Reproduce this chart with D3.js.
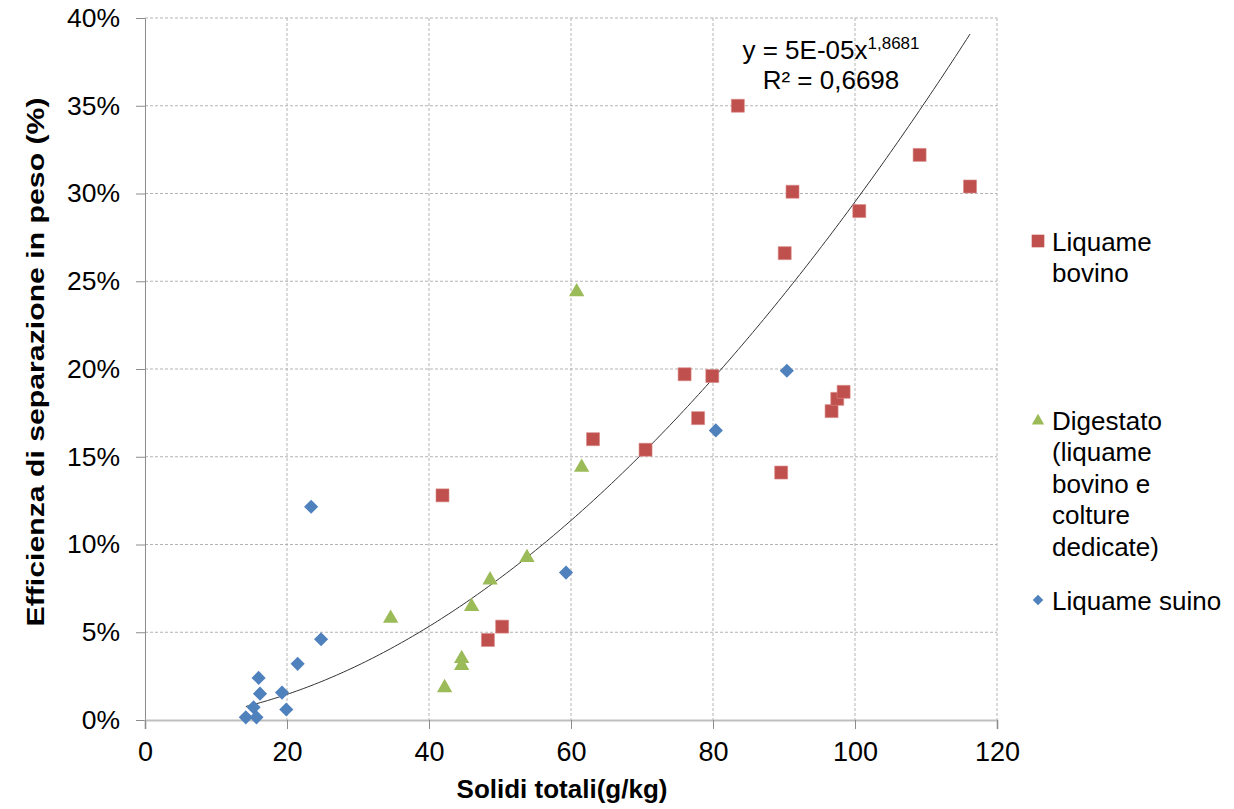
<!DOCTYPE html>
<html><head><meta charset="utf-8">
<script src="https://cdn.jsdelivr.net/npm/d3@7"></script>
<style>html,body{margin:0;padding:0;background:#fff;} text{font-family:"Liberation Sans",Arial,sans-serif;fill:#000;}</style>
</head><body>
<svg id="chart" width="1234" height="809"></svg>
<script>
// ---- data ----
const bovinoX = [41.9, 48.3, 50.3, 63.1, 70.5, 76.0, 77.9, 79.9, 83.5, 89.6, 90.1, 91.2, 96.7, 97.5, 98.4, 100.6, 109.1, 116.2];
const bovinoY = [12.8, 4.56, 5.32, 16.0, 15.4, 19.7, 17.2, 19.6, 35.0, 14.1, 26.6, 30.1, 17.6, 18.3, 18.7, 29.0, 32.2, 30.4];
const digestatoX = [34.6, 42.2, 44.6, 44.6, 46.0, 48.6, 53.8, 60.8, 61.5];
const digestatoY = [5.79, 1.84, 3.1, 3.5, 6.46, 7.98, 9.25, 24.4, 14.4];
const suinoX = [14.2, 15.3, 15.7, 16.0, 16.2, 19.3, 19.9, 21.5, 23.4, 24.8, 59.3, 80.4, 90.4];
const suinoY = [0.15, 0.72, 0.15, 2.4, 1.5, 1.56, 0.6, 3.2, 12.15, 4.6, 8.4, 16.5, 19.9];
const xTicks = [0, 20, 40, 60, 80, 100, 120];
const yTicks = [0, 0.05, 0.10, 0.15, 0.20, 0.25, 0.30, 0.35, 0.40];
const trendCoef = 5.42e-5, trendExp = 1.8681;
const eqLine1 = "y = 5E-05x", eqSup = "1,8681", eqLine2 = "R² = 0,6698";
const xTitle = "Solidi totali(g/kg)";
const yTitle = "Efficienza di separazione in peso (%)";
const legendItems = [
  {name:"bovino", lines:["Liquame","bovino"]},
  {name:"digestato", lines:["Digestato","(liquame","bovino e","colture","dedicate)"]},
  {name:"suino", lines:["Liquame suino"]}
];
// ---- chart ----
const svg = d3.select("#chart");
svg.append("rect").attr("width",1234).attr("height",809).attr("fill","#fff");
const L=145, R=997, T=18, B=720;
const x = d3.scaleLinear().domain([0,120]).range([L,R]);
const y = d3.scaleLinear().domain([0,0.40]).range([B,T]);
const colors = {bovino:"#C0504D", digestato:"#9BBB59", suino:"#4F81BD"};

// gridlines
const grid = svg.append("g");
grid.selectAll("line.h").data(yTicks.filter(d=>d>0)).enter().append("line")
  .attr("x1",L).attr("x2",R).attr("y1",d=>y(d)).attr("y2",d=>y(d))
  .attr("stroke","#b3b3b3").attr("stroke-width",1).attr("stroke-dasharray","3,2");
grid.selectAll("line.v").data(xTicks.filter(d=>d>0)).enter().append("line")
  .attr("y1",T).attr("y2",B).attr("x1",d=>x(d)).attr("x2",d=>x(d))
  .attr("stroke","#b3b3b3").attr("stroke-width",1).attr("stroke-dasharray","3,2");

// axes
const yAxis = d3.axisLeft(y).tickValues(yTicks).tickFormat(d3.format(".0%")).tickSize(9).tickPadding(16);
const gy = svg.append("g").attr("transform",`translate(${L},0)`).call(yAxis);
gy.select(".domain").attr("stroke","#8c8c8c");
gy.selectAll(".tick line").attr("stroke","#8c8c8c");
gy.selectAll(".tick text").attr("font-size","26.5px").attr("font-family","Liberation Sans, Arial").attr("fill","#000");

const xAxis = d3.axisBottom(x).tickValues(xTicks).tickFormat(d3.format("d")).tickSize(9).tickPadding(13);
const gx = svg.append("g").attr("transform",`translate(0,${B})`).call(xAxis);
gx.select(".domain").attr("stroke","#bfbfbf").attr("stroke-width",2);
gx.selectAll(".tick line").attr("stroke","#8c8c8c");
gx.selectAll(".tick text").attr("font-size","27px").attr("font-family","Liberation Sans, Arial").attr("fill","#000");

// trendline
const allX = bovinoX.concat(digestatoX, suinoX);
const xmin = d3.min(allX), xmax = d3.max(allX);
const trendPts = d3.range(0,201).map(i => { const xv = xmin + (xmax-xmin)*i/200; return [xv, trendCoef*Math.pow(xv,trendExp)]; });
svg.append("path").datum(trendPts)
  .attr("d", d3.line().x(d=>x(d[0])).y(d=>y(d[1])))
  .attr("fill","none").attr("stroke","#333").attr("stroke-width",1);

// points
function pts(xs, ys){ return xs.map((v,i)=>({x:v, y:ys[i]/100})); }
const sq = d3.symbol().type(d3.symbolSquare).size(169);
svg.append("g").selectAll("path").data(pts(bovinoX,bovinoY)).enter().append("path")
  .attr("d",sq).attr("transform",d=>`translate(${x(d.x)},${y(d.y)})`)
  .attr("fill",colors.bovino).attr("stroke","#d98a88").attr("stroke-width",0.6);
const tri = d3.symbol().type(d3.symbolTriangle).size(102);
svg.append("g").selectAll("path").data(pts(digestatoX,digestatoY)).enter().append("path")
  .attr("d",tri).attr("transform",d=>`translate(${x(d.x)},${y(d.y)})`)
  .attr("fill",colors.digestato);
const dia = d3.symbol().type(d3.symbolSquare).size(100);
svg.append("g").selectAll("path").data(pts(suinoX,suinoY)).enter().append("path")
  .attr("d",dia).attr("transform",d=>`translate(${x(d.x)},${y(d.y)}) rotate(45)`)
  .attr("fill",colors.suino);

// equation
const eq = svg.append("g");
const t1 = eq.append("text").attr("x",831).attr("y",59).attr("text-anchor","middle").attr("font-size","26px");
t1.append("tspan").text(eqLine1);
t1.append("tspan").attr("dy",-10).attr("font-size","17px").text(eqSup);
eq.append("text").attr("x",831).attr("y",89).attr("text-anchor","middle").attr("font-size","26px").text(eqLine2);

// axis titles
svg.append("text").attr("x",562).attr("y",798).attr("text-anchor","middle")
  .attr("font-size","26px").attr("font-weight","bold").text(xTitle);
svg.append("text").attr("transform","translate(44,362) rotate(-90) scale(1.26,1)")
  .attr("text-anchor","middle").attr("font-size","24px").attr("font-weight","bold").text(yTitle);

// legend
const legendY = [241, 420, 600];
const lineH = 31.5;
legendItems.forEach((it,i)=>{
  const g = svg.append("g");
  const cy = legendY[i];
  let sym;
  if(it.name==="bovino") sym = g.append("path").attr("d",d3.symbol().type(d3.symbolSquare).size(160)).attr("transform",`translate(1038,${cy})`);
  else if(it.name==="digestato") sym = g.append("path").attr("d",d3.symbol().type(d3.symbolTriangle).size(66)).attr("transform",`translate(1038,${cy+1})`);
  else sym = g.append("path").attr("d",d3.symbol().type(d3.symbolSquare).size(55)).attr("transform",`translate(1038,${cy}) rotate(45)`);
  sym.attr("fill",colors[it.name]);
  it.lines.forEach((ln,j)=>{
    g.append("text").attr("x",1052).attr("y",cy + j*lineH + 9.5).attr("font-size","26px").text(ln);
  });
});
</script>
</body></html>
